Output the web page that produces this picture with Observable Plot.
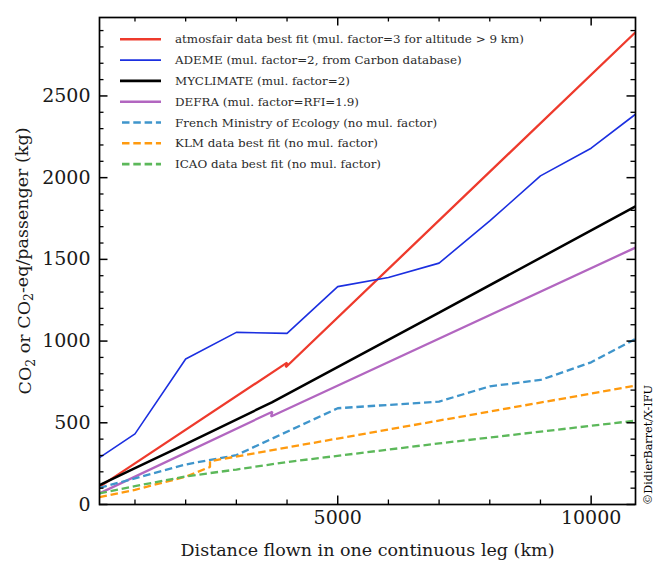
<!DOCTYPE html>
<html><head><meta charset="utf-8">
<script src="https://cdn.jsdelivr.net/npm/d3@7"></script>
<script src="https://cdn.jsdelivr.net/npm/@observablehq/plot@0.6"></script>
<style>
body{margin:0;background:#fff}
svg, svg text { font-family: "DejaVu Serif", serif !important; }
</style>
</head><body><div id="chart"></div>
<script>
// ---- data (km, kg CO2 per passenger) ----
const dist_atmosfair = [300, 4000, 3975, 10875];
const co2_atmosfair  = [108, 868, 840, 2890];

const dist_ademe = [300, 1000, 2000, 3000, 4000, 5000, 6000, 7000, 8000, 9000, 10000, 10875];
const co2_ademe  = [287, 432, 890, 1053, 1047, 1333, 1389, 1477, 1735, 2011, 2180, 2388];

const dist_myclimate = [300, 1000, 2000, 3700, 7000, 10875];
const co2_myclimate  = [118, 222, 370, 625, 1174, 1824];

const dist_defra = [300, 3710, 3685, 10875];
const co2_defra  = [68, 568, 538, 1572];

const dist_french = [300, 1000, 2000, 3000, 5000, 7000, 8000, 9000, 10000, 10875];
const co2_french  = [102, 160, 245, 302, 589, 630, 723, 762, 870, 1013];

const dist_klm = [300, 1000, 2000, 2480, 2480, 10875];
const co2_klm  = [45, 90, 170, 230, 265, 727];

const dist_icao = [300, 1000, 2000, 3000, 4000, 7000, 10875];
const co2_icao  = [68, 112, 172, 214, 260, 374, 513];

const legendLabels = [
  "atmosfair data best fit (mul. factor=3 for altitude > 9 km)",
  "ADEME (mul. factor=2, from Carbon database)",
  "MYCLIMATE (mul. factor=2)",
  "DEFRA (mul. factor=RFI=1.9)",
  "French Ministry of Ecology (no mul. factor)",
  "KLM data best fit (no mul. factor)",
  "ICAO data best fit (no mul. factor)"
];

const yMajorTicks = [0, 500, 1000, 1500, 2000, 2500];
const xMajorTicks = [5000, 10000];
const yMinorTicks = d3.range(100, 3000, 100).filter(v => v % 500 !== 0);
const xMinorTicks = d3.range(1000, 11000, 1000).filter(v => v % 5000 !== 0);

const xLabel = "Distance flown in one continuous leg (km)";
const credit = "©DidierBarret/X-IFU";

// ---- styles ----
const FONT = '"DejaVu Serif", serif';
const seriesData = [
  [dist_atmosfair, co2_atmosfair],
  [dist_ademe, co2_ademe],
  [dist_myclimate, co2_myclimate],
  [dist_defra, co2_defra],
  [dist_french, co2_french],
  [dist_klm, co2_klm],
  [dist_icao, co2_icao]
];
const styles = [
  {stroke: "#ee3a2c", strokeWidth: 2.3, dash: null},
  {stroke: "#1b2fe0", strokeWidth: 1.6, dash: null},
  {stroke: "#000000", strokeWidth: 2.5, dash: null},
  {stroke: "#b266c0", strokeWidth: 2.3, dash: null},
  {stroke: "#3f95cb", strokeWidth: 2.3, dash: "7.5,3.8"},
  {stroke: "#ff9a0e", strokeWidth: 2.3, dash: "7.5,3.8"},
  {stroke: "#5cb85a", strokeWidth: 2.3, dash: "7.5,3.8"}
];

const lineMarks = seriesData.map(([xs, ys], i) =>
  Plot.line(xs.map((x, j) => ({x, y: ys[j]})), {
    x: "x", y: "y",
    stroke: styles[i].stroke,
    strokeWidth: styles[i].strokeWidth,
    strokeDasharray: styles[i].dash,
    strokeLinejoin: "miter",
    strokeLinecap: "butt"
  })
);

const W = 664, H = 576, ML = 99, MR = 29, MT = 17, MB = 72;
const PW = W - ML - MR, PH = H - MT - MB;

const chart = Plot.plot({
  width: W, height: H,
  marginLeft: ML, marginRight: MR, marginTop: MT, marginBottom: MB,
  style: {fontFamily: FONT, fontSize: "19px", background: "#fff", color: "#000"},
  x: {domain: [300, 10875]},
  y: {domain: [0, 2980]},
  marks: [
    ...lineMarks,
    // inward ticks
    Plot.tickY(yMinorTicks, {y: d => d, insetRight: PW - 4.5, stroke: "#000", strokeWidth: 1.3}),
    Plot.tickY(yMinorTicks, {y: d => d, insetLeft: PW - 4.5, stroke: "#000", strokeWidth: 1.3}),
    Plot.tickY(yMajorTicks, {y: d => d, insetRight: PW - 8.5, stroke: "#000", strokeWidth: 1.5}),
    Plot.tickY(yMajorTicks, {y: d => d, insetLeft: PW - 8.5, stroke: "#000", strokeWidth: 1.5}),
    Plot.tickX(xMinorTicks, {x: d => d, insetTop: PH - 4.5, stroke: "#000", strokeWidth: 1.3}),
    Plot.tickX(xMinorTicks, {x: d => d, insetBottom: PH - 4.5, stroke: "#000", strokeWidth: 1.3}),
    Plot.tickX(xMajorTicks, {x: d => d, insetTop: PH - 8.5, stroke: "#000", strokeWidth: 1.5}),
    Plot.tickX(xMajorTicks, {x: d => d, insetBottom: PH - 8.5, stroke: "#000", strokeWidth: 1.5}),
    Plot.frame({stroke: "#000", strokeWidth: 1.7}),
    Plot.axisY(yMajorTicks, {tickSize: 0, tickPadding: 9, label: null, fontSize: 19, fill: "#1a1a1a", tickFormat: d => String(d)}),
    Plot.axisX(xMajorTicks, {tickSize: 0, tickPadding: 6, label: null, fontSize: 19, fill: "#1a1a1a", tickFormat: d => String(d)}),
    Plot.text([xLabel], {frameAnchor: "bottom", dy: 51, fontSize: 17.5, fill: "#1a1a1a"})
  ]
});

document.getElementById("chart").appendChild(chart);
const svg = d3.select(chart);

// legend (inside plot, top-left)
const lg = svg.append("g").attr("font-family", FONT).attr("text-anchor", "start");
legendLabels.forEach((label, i) => {
  const y = 39.3 + 20.8 * i;
  const s = styles[i];
  lg.append("line")
    .attr("x1", s.dash ? 122 : 120).attr("x2", 161).attr("y1", y).attr("y2", y)
    .attr("stroke", s.stroke).attr("stroke-width", s.strokeWidth + 0.3)
    .attr("stroke-dasharray", s.dash);
  lg.append("text")
    .attr("x", 175).attr("y", y).attr("dy", "0.35em")
    .attr("text-anchor", "start")
    .attr("font-size", 11.9).attr("fill", "#2a2a2a")
    .text(label);
});

// y-axis label with subscripts
const yl = svg.append("text")
  .attr("transform", "translate(31,261) rotate(-90)")
  .attr("text-anchor", "middle")
  .attr("font-family", FONT)
  .attr("font-size", 17.5).attr("fill", "#1a1a1a");
yl.append("tspan").text("CO");
yl.append("tspan").attr("dy", "0.3em").attr("font-size", 12.5).text("2");
yl.append("tspan").attr("dy", "-0.3em").text(" or CO");
yl.append("tspan").attr("dy", "0.3em").attr("font-size", 12.5).text("2");
yl.append("tspan").attr("dy", "-0.3em").text("-eq/passenger (kg)");

// credit, vertical at right
svg.append("text")
  .attr("transform", "translate(652,505) rotate(-90)")
  .attr("text-anchor", "start")
  .attr("font-family", FONT)
  .attr("font-size", 11.2).attr("fill", "#000")
  .text(credit);
</script>
</body></html>
